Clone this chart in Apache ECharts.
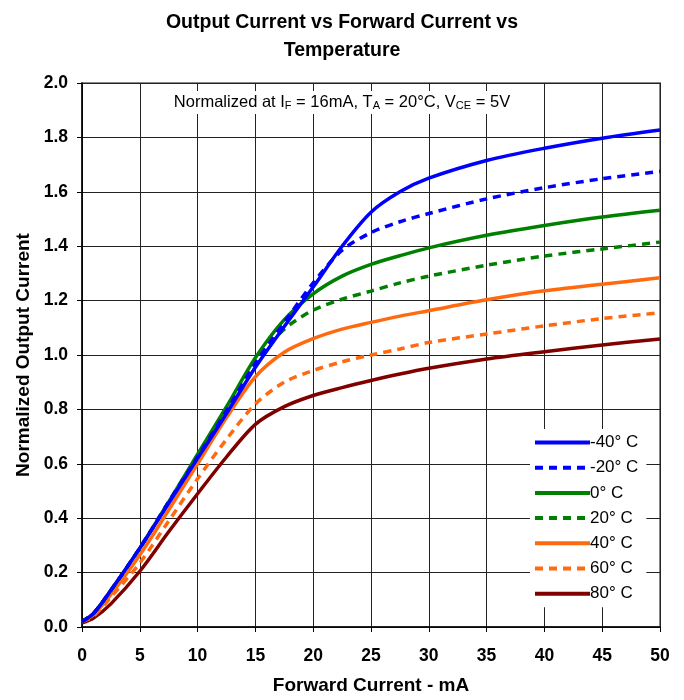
<!DOCTYPE html>
<html><head><meta charset="utf-8">
<script src="https://cdn.jsdelivr.net/npm/echarts@6/dist/echarts.min.js"></script>
<style>html,body{margin:0;padding:0;background:#fff}#c{width:684px;height:700px}</style>
</head><body><div id="c"></div>
<script>
const forwardCurrent = [0, 1, 2.5, 5, 7.5, 10, 12.5, 15, 17.5, 20, 22.5, 25, 27.5, 30, 35, 40, 45, 50];
const tMinus40 = [0.02, 0.05, 0.135, 0.29, 0.455, 0.62, 0.785, 0.955, 1.105, 1.25, 1.40, 1.525, 1.60, 1.65, 1.715, 1.76, 1.797, 1.827];
const tMinus20 = [0.02, 0.05, 0.135, 0.29, 0.46, 0.625, 0.795, 0.97, 1.12, 1.265, 1.385, 1.45, 1.49, 1.52, 1.574, 1.615, 1.648, 1.675];
const t0 = [0.02, 0.05, 0.135, 0.29, 0.46, 0.635, 0.81, 0.99, 1.13, 1.225, 1.29, 1.333, 1.365, 1.394, 1.44, 1.476, 1.507, 1.532];
const t20 = [0.02, 0.05, 0.135, 0.29, 0.46, 0.63, 0.805, 0.975, 1.095, 1.165, 1.205, 1.235, 1.265, 1.29, 1.33, 1.364, 1.39, 1.415];
const t40 = [0.02, 0.045, 0.12, 0.265, 0.43, 0.60, 0.77, 0.92, 1.01, 1.06, 1.095, 1.12, 1.143, 1.163, 1.203, 1.236, 1.26, 1.284];
const t60 = [0.02, 0.04, 0.11, 0.235, 0.39, 0.545, 0.69, 0.82, 0.90, 0.943, 0.975, 1.0, 1.022, 1.046, 1.077, 1.107, 1.134, 1.155];
const t80 = [0.015, 0.033, 0.085, 0.205, 0.35, 0.49, 0.625, 0.745, 0.81, 0.851, 0.88, 0.906, 0.93, 0.951, 0.985, 1.012, 1.037, 1.059];
const seriesNames = ['-40° C', '-20° C', '0° C', '20° C', '40° C', '60° C', '80° C'];
const seriesData = [tMinus40, tMinus20, t0, t20, t40, t60, t80];
const seriesColors = ['#0000FF', '#0000FF', '#008000', '#008000', '#FF6A10', '#FF6A10', '#800000'];
const seriesDashed = [false, true, false, true, false, true, false];
const xTicks = {min: 0, max: 50, interval: 5};
const yTicks = {min: 0, max: 2, interval: 0.2};

const chart = echarts.init(document.getElementById('c'));
const FONT = 'Liberation Sans, Arial, sans-serif';
chart.setOption({
  animation: false,
  backgroundColor: '#fff',
  title: {
    text: 'Output Current vs Forward Current vs\nTemperature',
    left: 'center', top: 4,
    textStyle: {fontFamily: FONT, fontSize: 19.5, fontWeight: 'bold', color: '#000', lineHeight: 27.5}
  },
  grid: {left: 82, right: 24, top: 83, bottom: 71, show: true, borderColor: '#888', borderWidth: 2},
  xAxis: {
    type: 'value', min: xTicks.min, max: xTicks.max, interval: xTicks.interval,
    name: 'Forward Current - mA', nameLocation: 'middle', nameGap: 49,
    nameTextStyle: {fontFamily: FONT, fontSize: 19, fontWeight: 'bold', color: '#000'},
    axisLine: {lineStyle: {color: '#000', width: 1.5}},
    axisTick: {show: true, length: 5, lineStyle: {color: '#000'}},
    axisLabel: {fontFamily: FONT, fontSize: 17.5, fontWeight: 'bold', color: '#000', margin: 20},
    splitLine: {show: true, lineStyle: {color: '#222', width: 1}}
  },
  yAxis: {
    type: 'value', min: yTicks.min, max: yTicks.max, interval: yTicks.interval,
    name: 'Normalized Output Current', nameLocation: 'middle', nameGap: 47,
    nameTextStyle: {fontFamily: FONT, fontSize: 19, fontWeight: 'bold', color: '#000'},
    axisLine: {show: true, lineStyle: {color: '#000', width: 1.5}},
    axisTick: {show: true, length: 5, lineStyle: {color: '#000'}},
    axisLabel: {fontFamily: FONT, fontSize: 17.5, fontWeight: 'bold', color: '#000', margin: 14,
      formatter: v => v.toFixed(1)},
    splitLine: {show: true, lineStyle: {color: '#222', width: 1}}
  },
  legend: {
    orient: 'vertical', left: 530, top: 429,
    backgroundColor: '#fff', padding: [5, 8, 5, 3],
    itemWidth: 55, itemHeight: 14, itemGap: 8.2,
    itemStyle: {opacity: 0},
    lineStyle: {width: 4},
    textStyle: {fontFamily: FONT, fontSize: 17, color: '#000', padding: [0, 0, 0, -5]},
    data: seriesNames
  },
  graphic: [{
    type: 'text', left: 'center', top: 91, z: 100,
    style: {
      text: 'Normalized at I{s|F} = 16mA, T{s|A} = 20°C, V{s|CE} = 5V',
      fontFamily: FONT, fontSize: 16.5, fill: '#000',
      backgroundColor: '#fff', padding: [3, 12, 3, 12],
      rich: {s: {fontFamily: FONT, fontSize: 11, fill: '#000', verticalAlign: 'bottom', lineHeight: 15}}
    }
  }],
  series: seriesNames.map((n, i) => ({
    name: n, type: 'line', smooth: 0.3, symbol: 'none',
    data: forwardCurrent.map((x, j) => [x, seriesData[i][j]]),
    lineStyle: {color: seriesColors[i], width: 3.5, type: seriesDashed[i] ? [8, 6] : 'solid', cap: 'butt'},
    itemStyle: {color: seriesColors[i]},
    z: 10 - i
  }))
});
</script></body></html>
